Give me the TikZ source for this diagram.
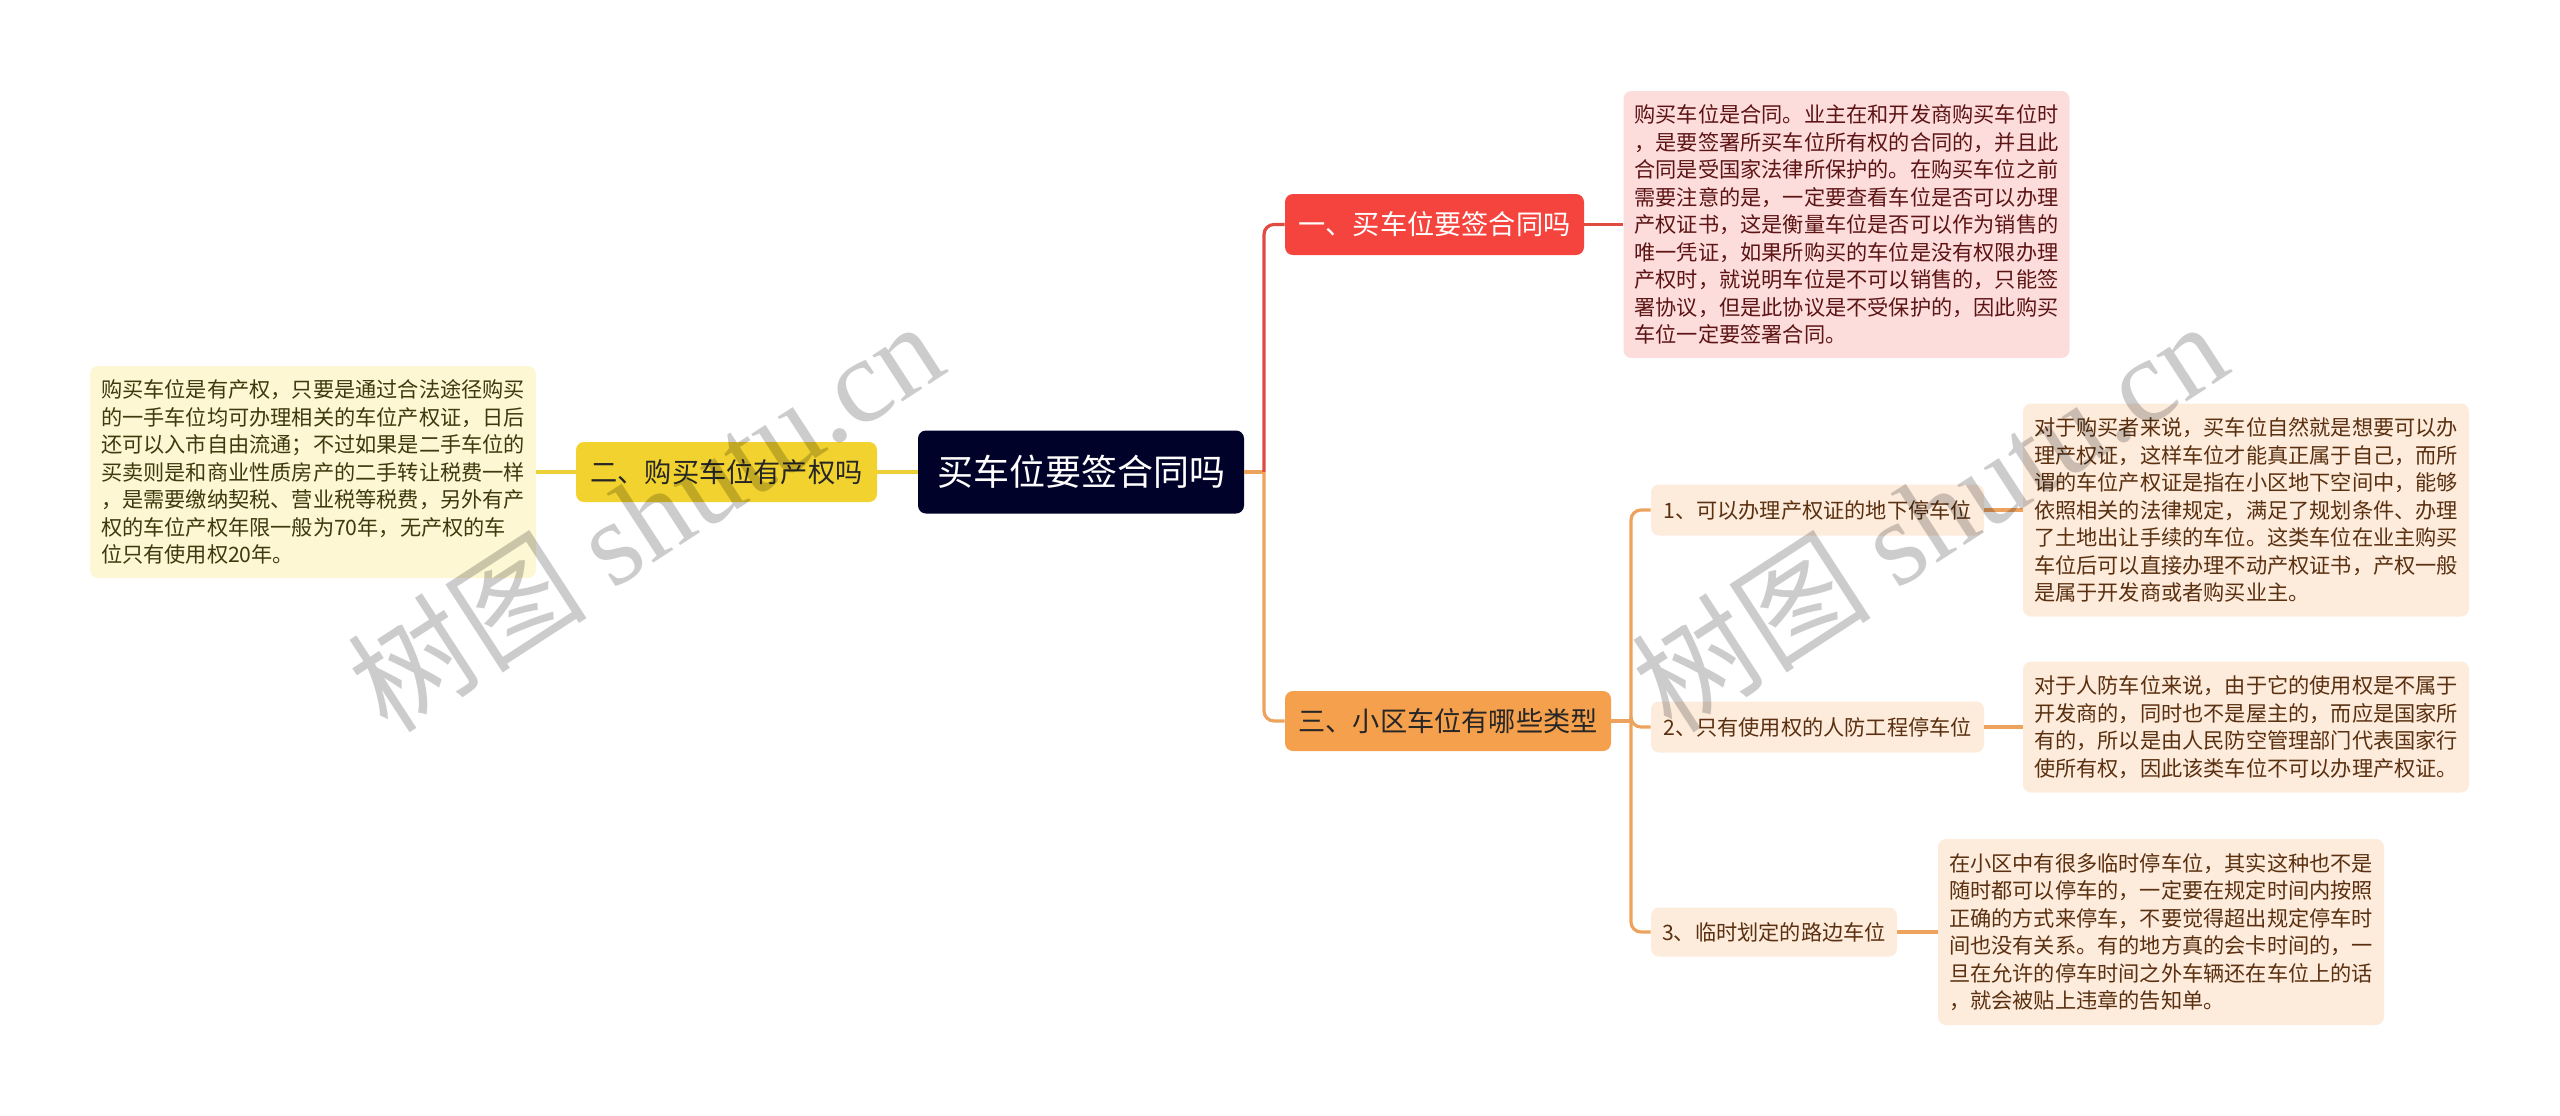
\documentclass[tikz,border=0pt]{standalone}
\usepackage{fontspec}
\setmainfont{Noto Sans CJK SC}
\newfontfamily\wmserif{Liberation Serif}
\definecolor{rootc}{HTML}{000229}
\definecolor{redc}{HTML}{F5443E}
\definecolor{redline}{HTML}{E04A40}
\definecolor{redleaf}{HTML}{FDDCDC}
\definecolor{redtext}{HTML}{5C1414}
\definecolor{yelc}{HTML}{F2D22E}
\definecolor{yelline}{HTML}{EDD036}
\definecolor{yelleaf}{HTML}{FDF7D3}
\definecolor{yeltext}{HTML}{3F3A0E}
\definecolor{orac}{HTML}{F5A04C}
\definecolor{oraline}{HTML}{EDA35E}
\definecolor{oraleaf}{HTML}{FDEBDC}
\definecolor{oratext}{HTML}{5A3010}
\begin{document}
\begin{tikzpicture}[x=0.5pt,y=-0.5pt,
  box/.style={rectangle, rounded corners=4pt, inner sep=0pt, align=center},
  leaf/.style={box, align=left, text width=212pt, minimum width=223pt,
    font=\fontsize{10.6pt}{13.75pt}\selectfont},
  mainfont/.style={font=\fontsize{13.6pt}{16pt}\selectfont},
  subfont/.style={font=\fontsize{10.6pt}{13pt}\selectfont},
  conn/.style={line width=1.6pt, rounded corners=5pt},
  wm/.style={rotate=33, text=black, opacity=0.2, font=\fontsize{60pt}{64pt}\selectfont}]
\useasboundingbox (0,0) rectangle (2560,1115);

% nodes
\node[box, fill=rootc, text=white, minimum width=163pt, minimum height=41.5pt,
  font=\fontsize{18pt}{20pt}\selectfont] (root) at (1081,472) {买车位要签合同吗};

\node[box, fill=redc, text=white, minimum width=149.5pt, minimum height=30.5pt, mainfont]
  (b1) at (1434.5,224.5) {一、买车位要签合同吗};
\node[box, fill=yelc, text=black!85, minimum width=150.5pt, minimum height=30pt, mainfont]
  (b2) at (726.5,472) {二、购买车位有产权吗};
\node[box, fill=orac, text=black!85, minimum width=163pt, minimum height=30pt, mainfont]
  (b3) at (1448,721) {三、小区车位有哪些类型};

\node[leaf, fill=redleaf, text=redtext, minimum height=133.5pt] (rl) at (1846.5,224.5) {%
购买车位是合同。业主在和开发商购买车位时\\
，是要签署所买车位所有权的合同的，并且此\\
合同是受国家法律所保护的。在购买车位之前\\
需要注意的是，一定要查看车位是否可以办理\\
产权证书，这是衡量车位是否可以作为销售的\\
唯一凭证，如果所购买的车位是没有权限办理\\
产权时，就说明车位是不可以销售的，只能签\\
署协议，但是此协议是不受保护的，因此购买\\
车位一定要签署合同。};

\node[leaf, fill=yelleaf, text=yeltext, minimum height=106pt] (yl) at (313,472) {%
购买车位是有产权，只要是通过合法途径购买\\
的一手车位均可办理相关的车位产权证，日后\\
还可以入市自由流通；不过如果是二手车位的\\
买卖则是和商业性质房产的二手转让税费一样\\
，是需要缴纳契税、营业税等税费，另外有产\\
权的车位产权年限一般为70年，无产权的车\\
位只有使用权20年。};

\node[box, fill=oraleaf, text=oratext, minimum width=166.5pt, minimum height=25.5pt, subfont]
  (s1) at (1817.5,510) {1、可以办理产权证的地下停车位};
\node[box, fill=oraleaf, text=oratext, minimum width=166.5pt, minimum height=25.5pt, subfont]
  (s2) at (1817.5,727) {2、只有使用权的人防工程停车位};
\node[box, fill=oraleaf, text=oratext, minimum width=123pt, minimum height=24.5pt, subfont]
  (s3) at (1774,932) {3、临时划定的路边车位};

\node[leaf, fill=oraleaf, text=oratext, minimum height=106.5pt] (l1) at (2246,510) {%
对于购买者来说，买车位自然就是想要可以办\\
理产权证，这样车位才能真正属于自己，而所\\
谓的车位产权证是指在小区地下空间中，能够\\
依照相关的法律规定，满足了规划条件、办理\\
了土地出让手续的车位。这类车位在业主购买\\
车位后可以直接办理不动产权证书，产权一般\\
是属于开发商或者购买业主。};

\node[leaf, fill=oraleaf, text=oratext, minimum height=65.5pt] (l2) at (2246,727) {%
对于人防车位来说，由于它的使用权是不属于\\
开发商的，同时也不是屋主的，而应是国家所\\
有的，所以是由人民防空管理部门代表国家行\\
使所有权，因此该类车位不可以办理产权证。};

\node[leaf, fill=oraleaf, text=oratext, minimum height=93pt] (l3) at (2161,932) {%
在小区中有很多临时停车位，其实这种也不是\\
随时都可以停车的，一定要在规定时间内按照\\
正确的方式来停车，不要觉得超出规定停车时\\
间也没有关系。有的地方真的会卡时间的，一\\
旦在允许的停车时间之外车辆还在车位上的话\\
，就会被贴上违章的告知单。};

% junctions
\coordinate (j1) at (1264,472);
\coordinate (j3) at (1631,721);

% connectors
\draw[conn, oraline] (root.east) -- (j1);
\draw[conn, redline] (j1) |- (b1.west);
\draw[conn, oraline] (j1) |- (b3.west);
\draw[conn, yelline] (root.west) -- (b2.east);
\draw[conn, yelline] (b2.west) -- (yl.east);
\draw[conn, redline] (b1.east) -- (rl.west);
\draw[conn, oraline] (b3.east) -- (j3);
\draw[conn, oraline] (j3) |- (s1.west);
\draw[conn, oraline] (j3) |- (s2.west);
\draw[conn, oraline] (j3) |- (s3.west);
\draw[conn, oraline] (s1.east) -- (l1.west);
\draw[conn, oraline] (s2.east) -- (l2.west);
\draw[conn, oraline] (s3.east) -- (l3.west);

% watermarks
\node[wm] (wm1) at (645,515) {树图 {\wmserif shutu.cn}};
\node[wm] (wm2) at (1929,515) {树图 {\wmserif shutu.cn}};
\end{tikzpicture}
\end{document}
